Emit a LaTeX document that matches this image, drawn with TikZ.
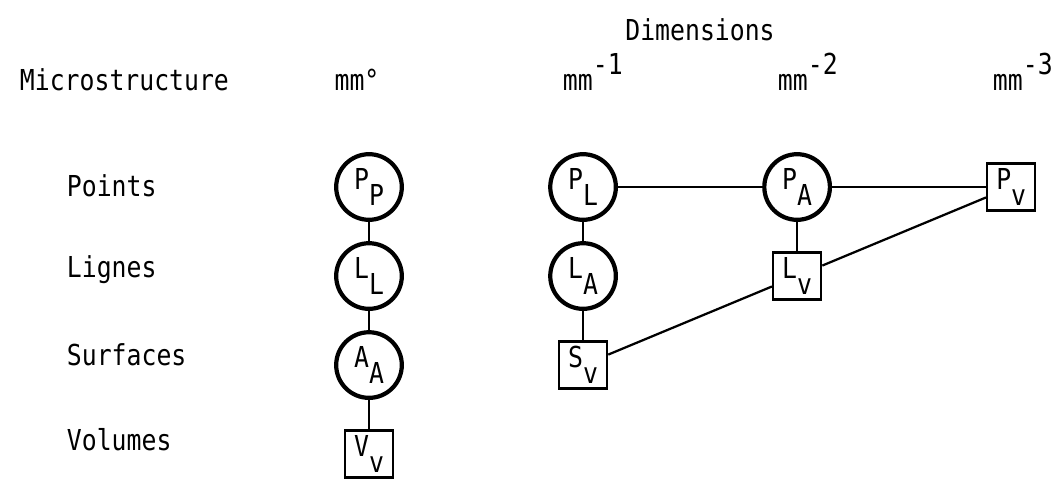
\documentclass[tikz,border=0pt]{standalone}
\usepackage{fontspec}
\setmainfont[FakeStretch=0.86]{DejaVu Sans Mono}
\usetikzlibrary{positioning}

\newcommand{\lowx}[1]{\raisebox{-1.0ex}{#1}}
\newcommand{\highx}[1]{\raisebox{1.0ex}{#1}}

\begin{document}
\begin{tikzpicture}[x=0.025cm,y=-0.025cm,node distance=2.225cm and 5.35cm,on grid,
    every node/.style={font=\fontsize{20.5}{22}\selectfont},
    ring/.style={circle,draw,line width=3pt,minimum size=1.64cm,inner sep=0pt},
    cell/.style={rectangle,draw,line width=1.7pt,minimum width=1.2cm,minimum height=1.17cm,inner sep=0pt}]
    \useasboundingbox (0,0) rectangle (1052,481);

    % headings
    \node[anchor=base]      (dim)   at (700,40)  {Dimensions};
    \node[anchor=base west] (micro) at (15,90)   {Microstructure};
    \node[anchor=base]      (d0)    at (357,90)  {mm°};
    \node[anchor=base west] (d1)    at (558,90)  {mm\highx{-1}};
    \node[anchor=base west] (d2)    at (773,90)  {mm\highx{-2}};
    \node[anchor=base west] (d3)    at (988,90)  {mm\highx{-3}};

    % row names
    \node[anchor=west] (pts)  at (62,186) {Points};
    \node[anchor=west] (lig)  at (62,270) {Lignes};
    \node[anchor=west] (surf) at (62,355) {Surfaces};
    \node[anchor=west] (vol)  at (62,440) {Volumes};

    % nodes
    \node[ring] (PP) at (369,187)   {P\lowx{P}};
    \node[ring] (LL) [below=of PP]  {L\lowx{L}};
    \node[ring] (AA) [below=of LL]  {A\lowx{A}};
    \node[cell] (Vv) [below=of AA]  {V\lowx{v}};
    \node[ring] (PL) [right=of PP]  {P\lowx{L}};
    \node[ring] (LA) [below=of PL]  {L\lowx{A}};
    \node[cell] (Sv) [below=of LA]  {S\lowx{v}};
    \node[ring] (PA) [right=of PL]  {P\lowx{A}};
    \node[cell] (Lv) [below=of PA]  {L\lowx{v}};
    \node[cell] (Pv) [right=of PA]  {P\lowx{v}};

    \path[line width=1.6pt]
                (PP)  edge  (LL)
                (LL)  edge  (AA)
                (AA)  edge  (Vv)
                (PL)  edge  (LA)
                (LA)  edge  (Sv)
                (PL)  edge  (PA)
                (PA)  edge  (Pv)
                (PA)  edge  (Lv)
                (Lv)  edge  (Pv)
                (Sv)  edge  (Lv)
                ;
\end{tikzpicture}
\end{document}
